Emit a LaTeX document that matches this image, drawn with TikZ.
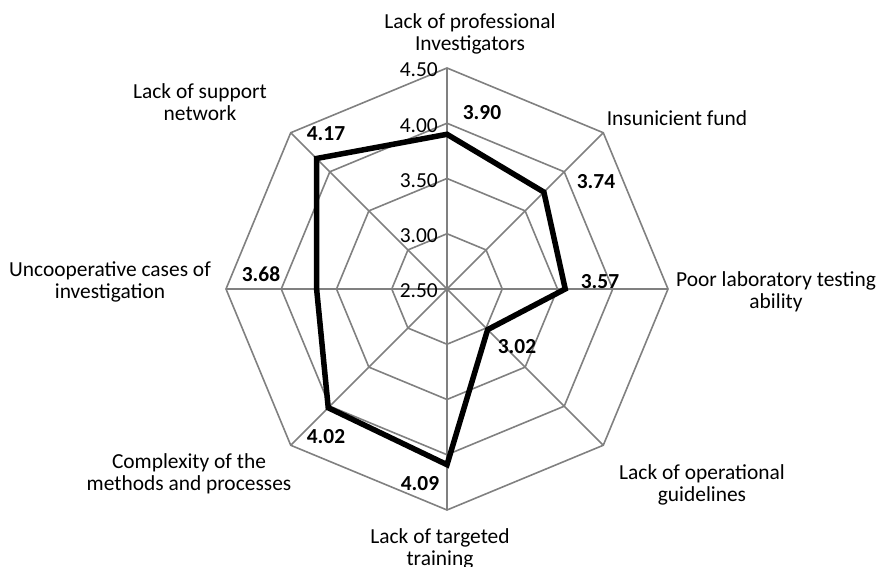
\documentclass[tikz,border=0pt]{standalone}
\usepackage{fontspec}
\setmainfont{Carlito}

\begin{document}
\begin{tikzpicture}[x=1bp, y=1bp,
	grid/.style={draw=gray, line width=1.6bp},
	series/.style={draw=black, line width=5.5bp, line join=miter},
	cat/.style={align=center, font=\fontsize{21.5}{22}\selectfont, inner sep=0pt},
	val/.style={font=\fontsize{21.5}{22}\selectfont\bfseries, inner sep=0pt},
	tick/.style={anchor=east, font=\fontsize{21.5}{22}\selectfont, inner sep=0pt}]
	\useasboundingbox (0,0) rectangle (879,567);
	\coordinate (o) at (447,278);

	% rings and spokes
	\foreach \r in {55.25,110.5,165.75,221}
		\draw[grid, shift={(447,278)}] (0:\r) \foreach \a in {45,90,...,315}{ -- (\a:\r)} -- cycle;
	\foreach \a in {0,45,...,315}
		\draw[grid] (o) -- ++(\a:221);

	% scale
	\foreach \tk [count=\i from 0] in {2.50,3.00,3.50,4.00,4.50}
		\node[tick] (tick\i) at (438,{276+55.25*\i}) {\tk};

	% data
	\draw[series, shift={(447,278)}] (90:{110.5*1.40})
		\foreach \a/\v in {45/3.74,0/3.57,-45/3.02,-90/4.09,-135/4.02,180/3.68,135/4.17}{ -- (\a:{110.5*(\v-2.5)})} -- cycle;

	\node[val] (vInv) at (482,454) {3.90};
	\node[val] (vFund) at (596,385) {3.74};
	\node[val] (vLab) at (600,285) {3.57};
	\node[val] (vGuide) at (517,220) {3.02};
	\node[val] (vTrain) at (420,83) {4.09};
	\node[val] (vMeth) at (326,130) {4.02};
	\node[val] (vCase) at (261,293) {3.68};
	\node[val] (vNet) at (326,433) {4.17};

	% categories
	\node[cat] (cInv) at (470,533) {Lack of professional\\Investigators};
	\node[cat] (cFund) at (677,449) {Insunicient fund};
	\node[cat] (cLab) at (776,275) {Poor laboratory testing\\ability};
	\node[cat] (cGuide) at (702,82) {Lack of operational\\guidelines};
	\node[cat] (cTrain) at (440,18) {Lack of targeted\\training};
	\node[cat] (cMeth) at (189,93) {Complexity of the\\methods and processes};
	\node[cat] (cCase) at (110,285) {Uncooperative cases of\\investigation};
	\node[cat] (cNet) at (200,465) {Lack of support\\network};
\end{tikzpicture}
\end{document}
